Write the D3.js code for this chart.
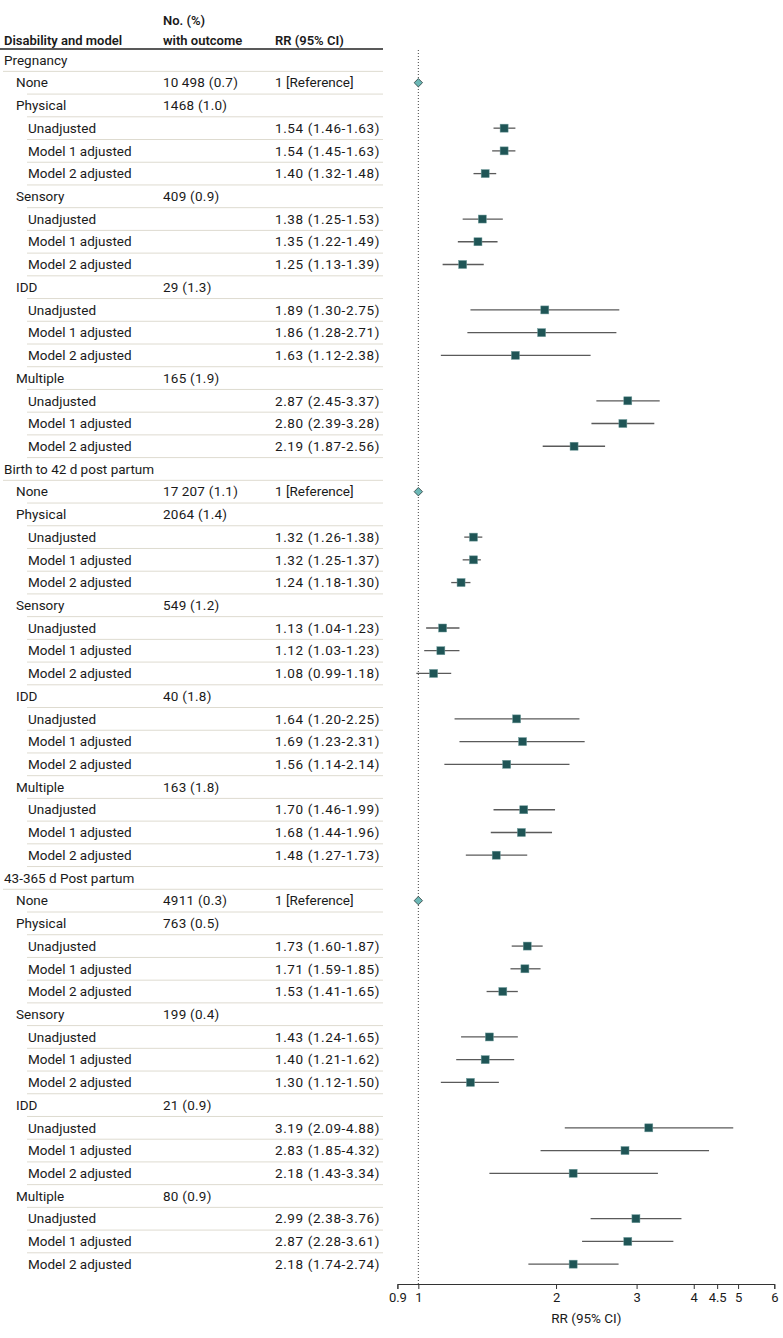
<!DOCTYPE html>
<html><head><meta charset="utf-8">
<script src="https://cdn.jsdelivr.net/npm/d3@7"></script>
<style>body{margin:0;background:#fff}svg{display:block}text{font-family:Roboto,"Noto Sans",sans-serif;fill:#1a1a1a}</style>
</head><body><svg id="c" width="783" height="1338"></svg>
<script>
const periods = ["Pregnancy", "Birth to 42 d post partum", "43-365 d Post partum"];
const groups = ["None", "Physical", "Sensory", "IDD", "Multiple"];
const models = ["Unadjusted", "Model 1 adjusted", "Model 2 adjusted"];
const counts = [
  ["10\u2009498 (0.7)", "1468 (1.0)", "409 (0.9)", "29 (1.3)", "165 (1.9)"],
  ["17\u2009207 (1.1)", "2064 (1.4)", "549 (1.2)", "40 (1.8)", "163 (1.8)"],
  ["4911 (0.3)", "763 (0.5)", "199 (0.4)", "21 (0.9)", "80 (0.9)"]
];
// estimates per period, per group (Physical, Sensory, IDD, Multiple), per model
const rrEst = [
  [[1.54,1.54,1.40],[1.38,1.35,1.25],[1.89,1.86,1.63],[2.87,2.80,2.19]],
  [[1.32,1.32,1.24],[1.13,1.12,1.08],[1.64,1.69,1.56],[1.70,1.68,1.48]],
  [[1.73,1.71,1.53],[1.43,1.40,1.30],[3.19,2.83,2.18],[2.99,2.87,2.18]]
];
const rrLo = [
  [[1.46,1.45,1.32],[1.25,1.22,1.13],[1.30,1.28,1.12],[2.45,2.39,1.87]],
  [[1.26,1.25,1.18],[1.04,1.03,0.99],[1.20,1.23,1.14],[1.46,1.44,1.27]],
  [[1.60,1.59,1.41],[1.24,1.21,1.12],[2.09,1.85,1.43],[2.38,2.28,1.74]]
];
const rrHi = [
  [[1.63,1.63,1.48],[1.53,1.49,1.39],[2.75,2.71,2.38],[3.37,3.28,2.56]],
  [[1.38,1.37,1.30],[1.23,1.23,1.18],[2.25,2.31,2.14],[1.99,1.96,1.73]],
  [[1.87,1.85,1.65],[1.65,1.62,1.50],[4.88,4.32,3.34],[3.76,3.61,2.74]]
];
const tickValues = [0.9, 1, 2, 3, 4, 4.5, 5, 6];
const tickLabels = ["0.9", "1", "2", "3", "4", "4.5", "5", "6"];

// build rows
const rows = [];
periods.forEach((p, pi) => {
  rows.push({type: "period", label: p});
  groups.forEach((g, gi) => {
    if (gi === 0) {
      rows.push({type: "ref", label: g, count: counts[pi][gi], rr: "1 [Reference]", est: 1});
    } else {
      rows.push({type: "group", label: g, count: counts[pi][gi]});
      models.forEach((m, mi) => {
        const e = rrEst[pi][gi-1][mi], lo = rrLo[pi][gi-1][mi], hi = rrHi[pi][gi-1][mi];
        rows.push({type: "model", label: m, est: e, lo: lo, hi: hi,
          rr: `${e.toFixed(2)} (${lo.toFixed(2)}-${hi.toFixed(2)})`});
      });
    }
  });
});

const svg = d3.select("#c");
const y0 = 60, rowH = 22.72;
const yScale = d3.scaleLinear().domain([0, 1]).range([y0, y0 + rowH]);
const x = d3.scaleLog().domain([0.9, 6]).range([397.4, 774.3]);
const axisY = 1284;

// header
const hdr = svg.append("g").attr("font-size", 13).attr("font-weight", 600);
hdr.append("text").attr("x", 4).attr("y", 45).text("Disability and model");
hdr.append("text").attr("x", 163).attr("y", 25).text("No. (%)");
hdr.append("text").attr("x", 163).attr("y", 45).text("with outcome");
hdr.append("text").attr("x", 275).attr("y", 45).text("RR (95% CI)");
svg.append("line").attr("x1", 0).attr("x2", 383).attr("y1", 49).attr("y2", 49)
  .attr("stroke", "#222").attr("stroke-width", 1.3);

// separators
rows.forEach((r, i) => {
  if (i === rows.length - 1) return;
  const yy = yScale(i) + rowH / 2;
  svg.append("line").attr("x1", r.type === "period" ? 3 : 27).attr("x2", 383)
    .attr("y1", yy).attr("y2", yy).attr("stroke", "#dedbd0").attr("stroke-width", 1);
});

// text
const indent = {period: 4, ref: 16, group: 16, model: 28};
const tg = svg.append("g").attr("font-size", 13.5);
rows.forEach((r, i) => {
  const yy = yScale(i) + 4.7;
  tg.append("text").attr("x", indent[r.type]).attr("y", yy).text(r.label);
  if (r.count) tg.append("text").attr("x", 163).attr("y", yy).attr("letter-spacing", 0.25).text(r.count);
  if (r.rr) tg.append("text").attr("x", 275).attr("y", yy)
    .attr("letter-spacing", r.type === "model" ? 0.6 : 0).text(r.rr);
});

// reference line
svg.append("line").attr("x1", x(1)).attr("x2", x(1)).attr("y1", 50).attr("y2", axisY)
  .attr("stroke", "#444").attr("stroke-width", 1).attr("stroke-dasharray", "1,2");

// CI and markers
const pg = svg.append("g");
rows.forEach((r, i) => {
  const yy = yScale(i);
  if (r.type === "model") {
    pg.append("line").attr("x1", x(r.lo)).attr("x2", x(r.hi)).attr("y1", yy).attr("y2", yy)
      .attr("stroke", "#5a5a5a").attr("stroke-width", 1.3);
    pg.append("rect").attr("x", x(r.est) - 4).attr("y", yy - 4).attr("width", 8).attr("height", 8)
      .attr("fill", "#1f5556").attr("stroke", "#6f9a9a").attr("stroke-width", 0.5);
  } else if (r.type === "ref") {
    const cx = x(1), s = 4.2;
    pg.append("path").attr("d", `M${cx},${yy-s}L${cx+s},${yy}L${cx},${yy+s}L${cx-s},${yy}Z`)
      .attr("fill", "#6cb8b6").attr("stroke", "#2a3a3a").attr("stroke-width", 0.8);
  }
});

// axis
const axis = d3.axisBottom(x).tickValues(tickValues).tickFormat((d, i) => tickLabels[i]).tickSizeOuter(0).tickSize(5);
const ag = svg.append("g").attr("transform", `translate(0,${axisY})`).call(axis);
ag.select(".domain").attr("stroke", "#333");
ag.selectAll(".tick line").attr("stroke", "#333");
ag.selectAll(".tick text").attr("font-size", 13).attr("font-family", "Roboto, sans-serif").attr("fill", "#1a1a1a").attr("dy", "0.8em");
svg.append("text").attr("x", x(2.33)).attr("y", 1323).attr("text-anchor", "middle").attr("font-size", 13.5).text("RR (95% CI)");
</script></body></html>
